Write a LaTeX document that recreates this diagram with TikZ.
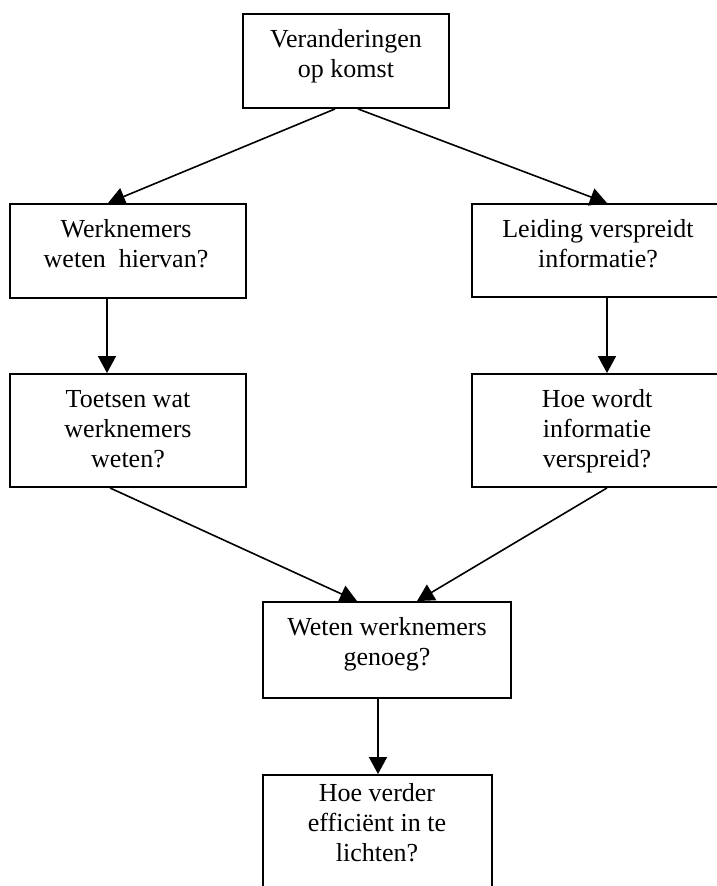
\documentclass[tikz,border=0pt]{standalone}
\usepackage{fontspec}
\setmainfont{Liberation Serif}
\usetikzlibrary{arrows.meta}
\tikzset{
  box/.style={draw, line width=1.9pt, fill=white, inner sep=0pt},
  txt/.style={anchor=base, inner sep=0pt, font=\fontsize{26}{30}\selectfont},
  arr/.style={line width=1.6pt, -{Triangle[length=17pt,width=18pt]}}
}
\newcommand{\lines}[1]{\begin{tabular}[t]{@{}c@{}}#1\end{tabular}}
\begin{document}
\begin{tikzpicture}[x=1pt, y=-1pt]
  \useasboundingbox (0,0) rectangle (717,886);
  \clip (0,0) rectangle (717,886);

  % boxes
  \node[box, minimum width=206pt, minimum height=94pt] (b1) at (346,61) {};
  \node[box, minimum width=236pt, minimum height=94pt] (b2) at (128,251) {};
  \node[box, minimum width=252pt, minimum height=93pt] (b3) at (598,250.5) {};
  \node[box, minimum width=236pt, minimum height=113pt] (b4) at (128,430.5) {};
  \node[box, minimum width=252pt, minimum height=113pt] (b5) at (598,430.5) {};
  \node[box, minimum width=248pt, minimum height=96pt] (b6) at (387,650) {};
  \node[box, minimum width=229pt, minimum height=130pt] (b7) at (377.5,840) {};

  % texts
  \node[txt] (t1) at (346,47) {\lines{Veranderingen\\op komst}};
  \node[txt] (t2) at (126,237) {\lines{Werknemers\\weten\ \ hiervan?}};
  \node[txt] (t3) at (598,237) {\lines{Leiding verspreidt\\informatie?}};
  \node[txt] (t4) at (128,407) {\lines{Toetsen wat\\werknemers\\weten?}};
  \node[txt] (t5) at (597,407) {\lines{Hoe wordt\\informatie\\verspreid?}};
  \node[txt] (t6) at (387,635) {\lines{Weten werknemers\\genoeg?}};
  \node[txt] (t7) at (377,801) {\lines{Hoe verder\\efficiënt in te\\lichten?}};

  % connectors
  \draw[arr] (335,0 |- b1.south) -- (108,0 |- b2.north);
  \draw[arr] (358,0 |- b1.south) -- (607,0 |- b3.north);
  \draw[arr] (107,0 |- b2.south) -- (107,0 |- b4.north);
  \draw[arr] (607,0 |- b3.south) -- (607,0 |- b5.north);
  \draw[arr] (110,0 |- b4.south) -- (357,0 |- b6.north);
  \draw[arr] (607,0 |- b5.south) -- (417,0 |- b6.north);
  \draw[arr] (378,0 |- b6.south) -- (378,0 |- b7.north);
\end{tikzpicture}
\end{document}
